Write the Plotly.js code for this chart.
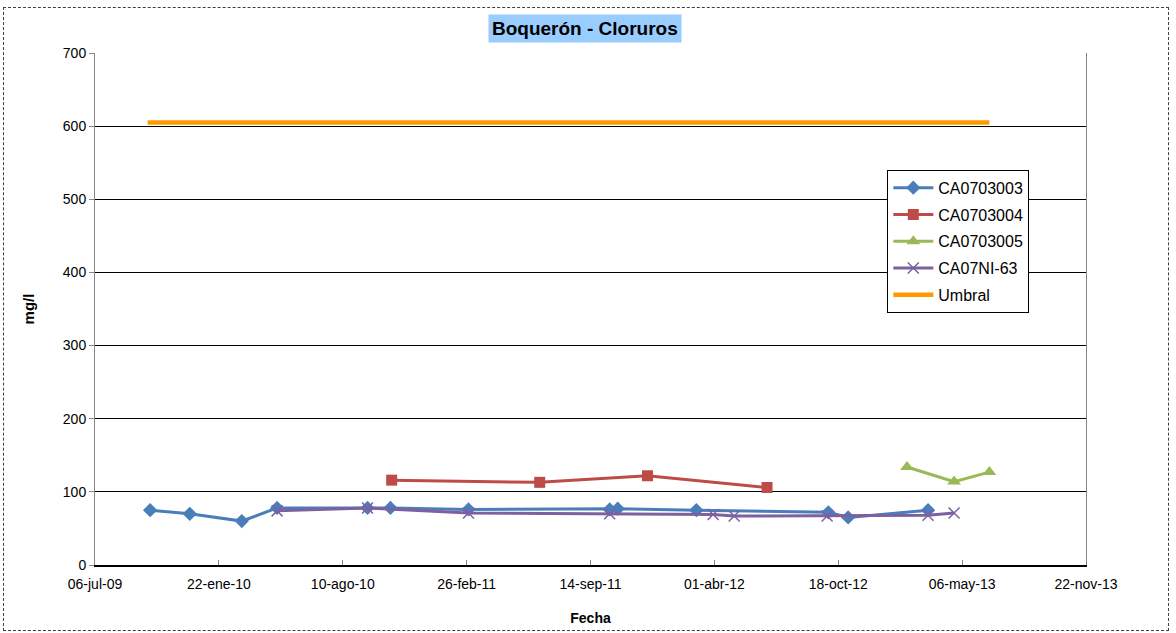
<!DOCTYPE html>
<html>
<head>
<meta charset="utf-8">
<script src="https://cdn.plot.ly/plotly-3.0.1.min.js"></script>
<style>
html,body{margin:0;padding:0;background:#fff;}
#frame{position:absolute;left:3px;top:7px;width:1166px;height:624px;border:1px dashed #404040;box-sizing:border-box;}
#chart{position:absolute;left:0;top:0;width:1176px;height:633px;}
</style>
</head>
<body>
<div id="frame"></div>
<div id="chart"></div>
<script>
// Data
const dates3003 = ['2009-10-03','2009-12-06','2010-02-28','2010-04-26','2010-09-19','2010-10-26','2011-03-01','2011-10-15','2011-10-28','2012-03-03','2012-10-02','2012-11-03','2013-03-12'];
const vals3003  = [75, 70, 60, 78, 78, 78, 76, 76, 77, 75, 72, 65, 75];

const dates3004 = ['2010-10-28','2011-06-24','2011-12-15','2012-06-25'];
const vals3004  = [116, 113, 122, 106];

const dates3005 = ['2013-02-06','2013-04-23','2013-06-19'];
const vals3005  = [134, 114, 127];

const datesNI63 = ['2010-04-26','2010-09-19','2011-03-01','2011-10-15','2012-03-30','2012-05-03','2012-09-30','2013-03-12','2013-04-23'];
const valsNI63  = [74, 78, 71, 70, 69, 67, 67, 68, 71];

const datesUmbral = ['2009-09-29','2013-06-19'];
const valsUmbral  = [605, 605];

const tickDates  = ['2009-07-06','2010-01-22','2010-08-10','2011-02-26','2011-09-14','2012-04-01','2012-10-18','2013-05-06','2013-11-22'];
const tickLabels = ['06-jul-09','22-ene-10','10-ago-10','26-feb-11','14-sep-11','01-abr-12','18-oct-12','06-may-13','22-nov-13'];

const FONT = 'Liberation Sans, Arial, sans-serif';

const traces = [
  {x: dates3003, y: vals3003, name: 'CA0703003', legendgroup:'a', mode:'lines+markers',
   line:{color:'#4A7EBB', width:3}, marker:{symbol:'diamond', size:11, color:'#4A7EBB'}},
  {x: dates3004, y: vals3004, name: 'CA0703004', legendgroup:'b', mode:'lines+markers',
   line:{color:'#BE4B48', width:3}, marker:{symbol:'square', size:11, color:'#BE4B48'}},
  {x: dates3005, y: vals3005, name: 'CA0703005', legendgroup:'c', mode:'lines+markers',
   line:{color:'#98B954', width:3}, marker:{symbol:'triangle-up', size:12, color:'#98B954'}},
  {x: datesNI63, y: valsNI63, name: 'CA07NI-63', legendgroup:'d', mode:'lines+markers',
   line:{color:'#7D60A0', width:3}, marker:{symbol:'x-thin', size:11, color:'#7D60A0', line:{color:'#7D60A0', width:1.5}}},
  {x: datesUmbral, y: valsUmbral, name: 'Umbral', legendgroup:'e', mode:'lines',
   line:{color:'#FF9900', width:4.5}}
];

const layout = {
  width: 1176, height: 633,
  margin: {l:95, r:90, t:53, b:68},
  paper_bgcolor: 'rgba(0,0,0,0)',
  plot_bgcolor: '#ffffff',
  font: {family: FONT, size: 14, color: '#000'},
  showlegend: true,
  legend: {
    x: 0.7995, y: 0.772, xanchor:'left', yanchor:'top',
    bgcolor:'#ffffff', bordercolor:'#000', borderwidth:1,
    font:{family: FONT, size:16, color:'#000'},
    traceorder:'grouped', tracegroupgap: 3, itemwidth: 40
  },
  xaxis: {
    type:'date',
    range:['2009-07-06','2013-11-22'],
    tickmode:'array', tickvals: tickDates, ticktext: tickLabels,
    showgrid:false, zeroline:false,
    showline:true, linecolor:'#000', linewidth:1.5,
    ticks:'inside', ticklen:5, tickcolor:'#868686',
    ticklabelstandoff: 6,
    tickfont:{family: FONT, size:14},
    title:{text:'<b>Fecha</b>', font:{family: FONT, size:14}, standoff: 22}
  },
  yaxis: {
    range:[0,700], dtick:100, tick0:0,
    showgrid:true, gridcolor:'#000', gridwidth:1,
    zeroline:false,
    showline:true, linecolor:'#868686', linewidth:1, mirror:true,
    ticks:'outside', ticklen:5, tickcolor:'#868686',
    tickfont:{family: FONT, size:14},
    title:{text:'<b>mg/l</b>', font:{family: FONT, size:15}, standoff: 24}
  },
  annotations: [{
    xref:'paper', yref:'paper', x:0.4945, y:1.047, xanchor:'center', yanchor:'middle',
    text:'<b>Boquerón - Cloruros</b>', showarrow:false,
    font:{family: FONT, size:19, color:'#000'},
    bgcolor:'#99CCFF', borderpad:3
  }]
};

Plotly.newPlot('chart', traces, layout, {displayModeBar:false, staticPlot:true});
</script>
</body>
</html>
